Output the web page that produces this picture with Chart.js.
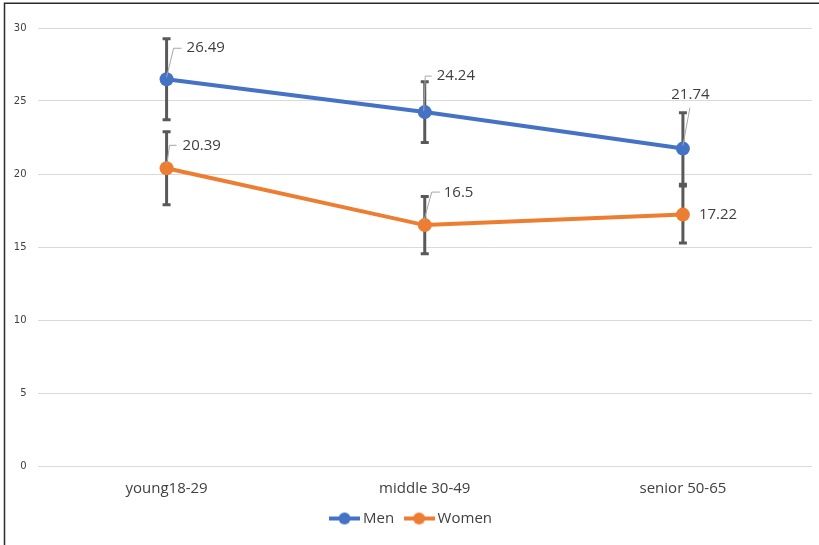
<!DOCTYPE html>
<html>
<head>
<meta charset="utf-8">
<script src="https://cdn.jsdelivr.net/npm/chart.js@4.4.1/dist/chart.umd.min.js"></script>
<style>
  html, body { margin: 0; padding: 0; background: #fff; }
  #wrap { width: 819px; height: 545px; position: relative; }
  canvas { display: block; }
</style>
</head>
<body>
<div id="wrap"><canvas id="chart" width="819" height="545"></canvas></div>
<script>
// chart data
const categories = ["young18-29", "middle 30-49", "senior 50-65"];
const menValues = [26.49, 24.24, 21.74];
const womenValues = [20.39, 16.5, 17.22];
const menErrors = [2.77, 2.08, 2.45];
const womenErrors = [2.5, 1.96, 1.95];
const yTicks = [0, 5, 10, 15, 20, 25, 30];

const MEN_COLOR = "#4472C4";
const WOMEN_COLOR = "#ED7D31";

// where each data label sits relative to its point (pixels), plus leader line
const labelPlacement = [
  [ // Men
    { dx: 20, dy: -32, leader: [[0, -2], [7, -31], [15, -31]] },
    { dx: 12, dy: -36, leader: [[-1, -1], [0.5, -36], [7, -36]] },
    { dx: 7.5, dy: -54, align: "center", leader: [[0, -3], [7, -41]] }
  ],
  [ // Women
    { dx: 16, dy: -23, leader: [[0, -3], [3, -23], [10, -23]] },
    { dx: 19, dy: -32, leader: [[-1, -4], [7, -33], [15, -33]] },
    { dx: 16, dy: 0 }
  ]
];

// small line + dot swatch for the legend
function legendSwatch(color) {
  const c = document.createElement("canvas");
  c.width = 31; c.height = 14;
  const g = c.getContext("2d");
  g.strokeStyle = color; g.lineWidth = 4;
  g.beginPath(); g.moveTo(0, 7); g.lineTo(31, 7); g.stroke();
  g.fillStyle = color;
  g.beginPath(); g.arc(15.5, 7, 6, 0, Math.PI * 2); g.fill();
  return c;
}

// frame around the picture (left and top edge only)
const framePlugin = {
  id: "frame",
  afterDraw(chart) {
    const ctx = chart.ctx;
    ctx.save();
    ctx.strokeStyle = "#2b2b2b";
    ctx.lineWidth = 1.5;
    ctx.beginPath();
    ctx.moveTo(4.5, 545); ctx.lineTo(4.5, 3.3); ctx.lineTo(819, 3.3);
    ctx.stroke();
    ctx.restore();
  }
};

// error bars, drawn under the markers
const errorBarPlugin = {
  id: "errorBars",
  beforeDatasetsDraw(chart) {
    const ctx = chart.ctx;
    const y = chart.scales.y;
    const errs = [menErrors, womenErrors];
    ctx.save();
    ctx.strokeStyle = "#595959";
    ctx.lineWidth = 3;
    chart.data.datasets.forEach((ds, di) => {
      const meta = chart.getDatasetMeta(di);
      meta.data.forEach((pt, i) => {
        const v = ds.data[i];
        const top = y.getPixelForValue(v + errs[di][i]);
        const bot = y.getPixelForValue(v - errs[di][i]);
        ctx.beginPath();
        ctx.moveTo(pt.x, top); ctx.lineTo(pt.x, bot);
        ctx.moveTo(pt.x - 4, top); ctx.lineTo(pt.x + 4, top);
        ctx.moveTo(pt.x - 4, bot); ctx.lineTo(pt.x + 4, bot);
        ctx.stroke();
      });
    });
    ctx.restore();
  }
};

// value labels with leader lines
const valueLabelPlugin = {
  id: "valueLabels",
  afterDatasetsDraw(chart) {
    const ctx = chart.ctx;
    ctx.save();
    chart.data.datasets.forEach((ds, di) => {
      const meta = chart.getDatasetMeta(di);
      meta.data.forEach((pt, i) => {
        const p = labelPlacement[di][i];
        if (p.leader) {
          ctx.strokeStyle = "#a6a6a6";
          ctx.lineWidth = 1;
          ctx.beginPath();
          p.leader.forEach((q, k) => {
            if (k === 0) ctx.moveTo(pt.x + q[0], pt.y + q[1]);
            else ctx.lineTo(pt.x + q[0], pt.y + q[1]);
          });
          ctx.stroke();
        }
        ctx.fillStyle = "#404040";
        ctx.font = "15px 'Open Sans'";
        ctx.textAlign = p.align || "left";
        ctx.textBaseline = "middle";
        ctx.fillText(String(ds.data[i]), pt.x + p.dx, pt.y + p.dy);
      });
    });
    ctx.restore();
  }
};

const ctx = document.getElementById("chart").getContext("2d");
new Chart(ctx, {
  type: "line",
  data: {
    labels: categories,
    datasets: [
      {
        label: "Men",
        data: menValues,
        borderColor: MEN_COLOR,
        backgroundColor: MEN_COLOR,
        borderWidth: 4,
        pointRadius: 7,
        pointHoverRadius: 7,
        pointBorderWidth: 0,
        pointStyle: "circle",
        tension: 0
      },
      {
        label: "Women",
        data: womenValues,
        borderColor: WOMEN_COLOR,
        backgroundColor: WOMEN_COLOR,
        borderWidth: 4,
        pointRadius: 7,
        pointHoverRadius: 7,
        pointBorderWidth: 0,
        pointStyle: "circle",
        tension: 0
      }
    ]
  },
  options: {
    responsive: false,
    animation: false,
    devicePixelRatio: 1,
    layout: { padding: { left: 13.5, right: 7, top: 28, bottom: 9 } },
    plugins: {
      legend: {
        position: "bottom",
        labels: {
          usePointStyle: true,
          pointStyleWidth: 22,
          padding: 14,
          color: "#404040",
          font: { family: "'Open Sans'", size: 15 },
          generateLabels(chart) {
            return chart.data.datasets.map((ds, i) => ({
              text: ds.label,
              fillStyle: ds.borderColor,
              strokeStyle: ds.borderColor,
              lineWidth: 0,
              pointStyle: legendSwatch(ds.borderColor),
              fontColor: "#404040",
              datasetIndex: i
            }));
          }
        }
      },
      tooltip: { enabled: false }
    },
    scales: {
      x: {
        offset: true,
        afterFit(scale) { scale.height -= 15; },
        grid: { display: false, drawTicks: false },
        border: { display: false },
        ticks: {
          color: "#404040",
          font: { family: "'Open Sans'", size: 15 },
          padding: 14,
          maxRotation: 0,
          minRotation: 0
        }
      },
      y: {
        min: 0,
        max: 30,
        afterBuildTicks(scale) {
          scale.ticks = yTicks.map(v => ({ value: v }));
        },
        afterFit(scale) { scale.width = 24; },
        grid: { color: "#d9d9d9", lineWidth: 1, drawTicks: false },
        border: { display: false },
        ticks: {
          color: "#404040",
          font: { family: "'DejaVu Sans'", size: 10 },
          padding: 11
        }
      }
    }
  },
  plugins: [errorBarPlugin, valueLabelPlugin, framePlugin]
});
</script>
</body>
</html>
